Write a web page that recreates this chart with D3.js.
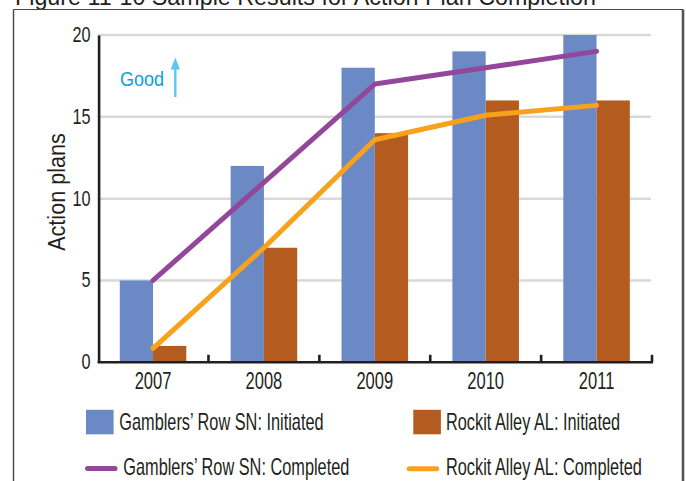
<!DOCTYPE html>
<html>
<head>
<meta charset="utf-8">
<script src="https://cdn.jsdelivr.net/npm/d3@7"></script>
<style>
  html, body { margin: 0; padding: 0; background: #fff; overflow: hidden; }
  svg text { font-family: "Liberation Sans", Arial, sans-serif; fill: #231f20; }
</style>
</head>
<body>
<svg id="chart" width="686" height="481"></svg>
<script>
// Action plan counts per year
const years = ["2007", "2008", "2009", "2010", "2011"];
const gamblersInitiated = [5, 12, 18, 19, 20];
const rockitInitiated = [1, 7, 14, 16, 16];
const gamblersCompleted = [5, 11, 17, 18, 19];
const rockitCompleted = [0.85, 7, 13.6, 15.1, 15.7];
const yTicks = [0, 5, 10, 15, 20];
const gridTicks = [5, 10, 15, 20];

const seriesNames = {
  gamblersInitiated: "Gamblers\u2019 Row SN: Initiated",
  rockitInitiated: "Rockit Alley AL: Initiated",
  gamblersCompleted: "Gamblers\u2019 Row SN: Completed",
  rockitCompleted: "Rockit Alley AL: Completed"
};
const colors = {
  gamblersInitiated: "#6b89c5",
  rockitInitiated: "#b45b1f",
  gamblersCompleted: "#93479b",
  rockitCompleted: "#f8a11b"
};

const svg = d3.select("#chart");

// Condensed lettering: squeeze text horizontally around its anchor point
function condense(sel, sx) {
  sel.each(function () {
    const t = d3.select(this);
    const x0 = +t.attr("x") || 0;
    t.attr("x", x0 / sx).attr("transform", `scale(${sx},1)`);
  });
}

// Page title, partly above the visible area
svg.append("text")
  .attr("x", 15).attr("y", 5)
  .attr("font-size", 23.3)
  .text("Figure 11-10 Sample Results for Action Plan Completion");

// Figure frame (bottom edge runs off the page)
const frame = svg.append("g").attr("stroke", "#444").attr("fill", "none");
frame.append("line").attr("x1", 13.5).attr("x2", 13.5).attr("y1", 9.5).attr("y2", 490).attr("stroke-width", 1.4);
frame.append("line").attr("x1", 13.5).attr("x2", 683).attr("y1", 9.5).attr("y2", 9.5).attr("stroke-width", 1.2);
frame.append("line").attr("x1", 683).attr("x2", 683).attr("y1", 9.5).attr("y2", 490).attr("stroke-width", 2.6).attr("stroke", "#555");

// Scales
const plot = { left: 97.6, right: 652, top: 35, bottom: 362.3 };
const x = d3.scaleBand().domain(years).range([plot.left, plot.right]).paddingInner(0.4).paddingOuter(0.2);
const sub = d3.scaleBand().domain(["gamblersInitiated", "rockitInitiated"]).range([0, x.bandwidth()]);
const y = d3.scaleLinear().domain([0, 20]).range([plot.bottom, plot.top]);

// Horizontal gridlines
svg.append("g").selectAll("line").data(gridTicks).join("line")
  .attr("x1", plot.left).attr("x2", plot.right - 1)
  .attr("y1", d => y(d)).attr("y2", d => y(d))
  .attr("stroke", "#d9d9d9").attr("stroke-width", 2.5);

// Bars
const barData = years.map((yr, i) => ({ yr, values: [
  { key: "gamblersInitiated", v: gamblersInitiated[i] },
  { key: "rockitInitiated", v: rockitInitiated[i] }
]}));
svg.append("g").selectAll("g").data(barData).join("g")
  .attr("transform", d => `translate(${x(d.yr)},0)`)
  .selectAll("rect").data(d => d.values).join("rect")
  .attr("x", d => sub(d.key))
  .attr("width", sub.bandwidth())
  .attr("y", d => y(d.v))
  .attr("height", d => y(0) - y(d.v))
  .attr("fill", d => colors[d.key]);

// Completed lines
const cx = yr => x(yr) + x.bandwidth() / 2;
const line = d3.line().x((d, i) => cx(years[i])).y(d => y(d));
[["gamblersCompleted", gamblersCompleted], ["rockitCompleted", rockitCompleted]].forEach(([key, vals]) => {
  svg.append("path").datum(vals)
    .attr("d", line)
    .attr("fill", "none")
    .attr("stroke", colors[key])
    .attr("stroke-width", 5)
    .attr("stroke-linecap", "round")
    .attr("stroke-linejoin", "round");
});

// Y axis
const yAxis = svg.append("g")
  .attr("transform", `translate(${plot.left + 1},0)`)
  .call(d3.axisLeft(y).tickValues(yTicks).tickSize(0).tickPadding(8));
yAxis.select(".domain").attr("stroke", "#231f20").attr("stroke-width", 2.6);
yAxis.selectAll("text").attr("font-size", 21.4).attr("fill", "#231f20").attr("dy", "0.3em")
  .attr("font-family", null).call(condense, 0.76);

// X axis with category separators pointing up
const xAxis = svg.append("g")
  .attr("transform", `translate(0,${plot.bottom})`)
  .call(d3.axisBottom(x).tickSize(0).tickPadding(10));
xAxis.select(".domain").remove();
xAxis.selectAll("text").attr("font-size", 23.3).attr("fill", "#231f20").attr("font-family", null)
  .call(condense, 0.71);
xAxis.append("line")
  .attr("x1", plot.left).attr("x2", plot.right + 1)
  .attr("stroke", "#231f20").attr("stroke-width", 2.6);
xAxis.selectAll(".sep").data(years).join("line").attr("class", "sep")
  .attr("x1", d => x(d) + x.bandwidth() + x.step() * x.paddingInner() / 2)
  .attr("x2", d => x(d) + x.bandwidth() + x.step() * x.paddingInner() / 2)
  .attr("y1", 0).attr("y2", -7.5)
  .attr("stroke", "#231f20").attr("stroke-width", 2.6);

// Y axis title
svg.append("text")
  .attr("transform", "translate(64.5,192) rotate(-90) scale(0.9,1)")
  .attr("text-anchor", "middle")
  .attr("font-size", 24)
  .text("Action plans");

// "Good" direction marker
svg.append("text")
  .attr("x", 120).attr("y", 86.5)
  .attr("font-size", 20.8)
  .style("fill", "#0aa0da")
  .text("Good")
  .call(condense, 0.865);
svg.append("line")
  .attr("x1", 175.3).attr("x2", 175.3).attr("y1", 97).attr("y2", 66)
  .attr("stroke", "#5cc8f0").attr("stroke-width", 2.4);
svg.append("path")
  .attr("d", "M170.6,69.5 L175.3,57.5 L180,69.5 Z")
  .attr("fill", "#5cc8f0");

// Legend
const legendItems = [
  { key: "gamblersInitiated", type: "rect", x: 86, y: 422, tx: 119.3, ty: 430 },
  { key: "rockitInitiated", type: "rect", x: 413.3, y: 422, tx: 446, ty: 430 },
  { key: "gamblersCompleted", type: "line", x: 85, y: 468.5, tx: 123.3, ty: 474.5 },
  { key: "rockitCompleted", type: "line", x: 406.7, y: 468.7, tx: 446, ty: 474.5 }
];
const legend = svg.append("g");
legendItems.forEach(it => {
  if (it.type === "rect") {
    legend.append("rect")
      .attr("x", it.x).attr("y", it.y - 12.2)
      .attr("width", 27.6).attr("height", 24.5)
      .attr("fill", colors[it.key]);
  } else {
    legend.append("line")
      .attr("x1", it.x + 2.5).attr("x2", it.x + 30)
      .attr("y1", it.y).attr("y2", it.y)
      .attr("stroke", colors[it.key]).attr("stroke-width", 5)
      .attr("stroke-linecap", "round");
  }
  legend.append("text")
    .attr("transform", `translate(${it.tx},${it.ty}) scale(0.68,1)`)
    .attr("font-size", 24)
    .text(seriesNames[it.key]);
});
</script>
</body>
</html>
